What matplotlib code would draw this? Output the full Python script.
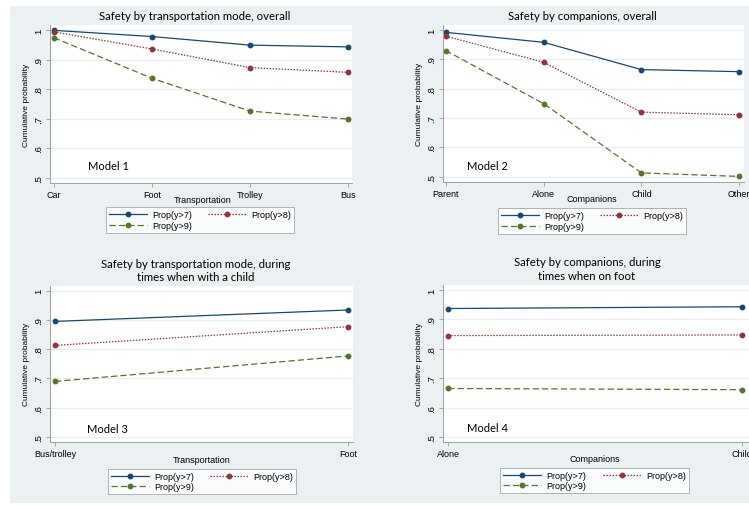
import matplotlib.pyplot as plt
from matplotlib.patches import Rectangle
from matplotlib.lines import Line2D

# data
transport = ['Car', 'Foot', 'Trolley', 'Bus']
p1_y7 = [0.999, 0.978, 0.949, 0.943]
p1_y8 = [0.994, 0.936, 0.873, 0.857]
p1_y9 = [0.974, 0.837, 0.726, 0.699]

companions = ['Parent', 'Alone', 'Child', 'Other']
p2_y7 = [0.992, 0.958, 0.865, 0.858]
p2_y8 = [0.979, 0.890, 0.720, 0.711]
p2_y9 = [0.930, 0.749, 0.513, 0.501]

transport_child = ['Bus/trolley', 'Foot']
p3_y7 = [0.895, 0.934]
p3_y8 = [0.813, 0.877]
p3_y9 = [0.690, 0.777]

companions_foot = ['Alone', 'Child']
p4_y7 = [0.937, 0.943]
p4_y8 = [0.845, 0.847]
p4_y9 = [0.665, 0.661]

yticks = [0.5, 0.6, 0.7, 0.8, 0.9, 1.0]
ytick_labels = ['.5', '.6', '.7', '.8', '.9', '1']
series_names = ['Prop(y>7)', 'Prop(y>8)', 'Prop(y>9)']

W, H = 749, 506
NAVY, MAROON, GREEN = '#1a476f', '#90353b', '#55752f'
BG = '#ebf0f3'
styles = [dict(color=NAVY, ls='-'),
          dict(color=MAROON, ls=(0, (1.2, 1.2))),
          dict(color=GREEN, ls=(0, (5, 2.5)))]


def px(x, y):
    return x / W, 1 - y / H


fig = plt.figure(figsize=(W / 100, H / 100), dpi=100, facecolor='white')
fig.patches.append(Rectangle(px(10, 504), (W - 10) / W, (504 - 7) / H,
                             transform=fig.transFigure, facecolor=BG,
                             edgecolor='none', zorder=-10))


def panel(box, labels, series, xlim, title, xlabel, model, title_xy, xlab_xy,
          model_xy, leg_xy):
    x0, y0, x1, y1 = box
    ax = fig.add_axes([x0 / W, 1 - y1 / H, (x1 - x0) / W, (y1 - y0) / H])
    ax.set_facecolor('white')
    xs = list(range(len(labels)))
    for vals, st in zip(series, styles):
        ax.plot(xs, vals, marker='o', markersize=3.2, lw=0.9, clip_on=False,
                **st)
    ax.set_xlim(*xlim)
    ax.set_ylim(0.483, 1.017)
    ax.set_yticks(yticks)
    ax.set_yticklabels(ytick_labels, rotation=90, va='center',
                       fontsize=6.8, family='Liberation Sans')
    ax.set_xticks(xs)
    ax.set_xticklabels(labels, fontsize=6.5, family='Liberation Sans')
    ax.tick_params(length=3, width=0.6, color='#999999', pad=2)
    ax.grid(axis='y', color='#e8eef1', lw=0.9)
    ax.set_axisbelow(True)
    for s in ['top', 'right']:
        ax.spines[s].set_visible(False)
    for s in ['left', 'bottom']:
        ax.spines[s].set_color('#a0a0a0')
        ax.spines[s].set_linewidth(0.7)
    ax.set_ylabel('Cumulative probability', fontsize=6,
                  family='Liberation Sans', labelpad=3)

    fig.text(*px(*title_xy), title, ha='center', va='center', fontsize=8.2,
             family='Lato', linespacing=1.25)
    fig.text(*px(*xlab_xy), xlabel, ha='center', va='center', fontsize=6.5,
             family='Liberation Sans')
    fig.text(*px(*model_xy), model, ha='left', va='center', fontsize=8,
             family='Lato')

    handles = [Line2D([], [], marker='o', markersize=3.2, lw=0.9, **st)
               for st in styles]
    order = [0, 2, 1]
    leg = fig.legend([handles[i] for i in order],
                     [series_names[i] for i in order],
                     ncol=2, loc='center', bbox_to_anchor=px(*leg_xy),
                     prop={'family': 'Liberation Sans', 'size': 6.5},
                     frameon=True, fancybox=False, handlelength=4.2,
                     columnspacing=1.8, labelspacing=0.15, borderpad=0.35,
                     handletextpad=0.6)
    leg.get_frame().set_edgecolor('#a0a0a0')
    leg.get_frame().set_linewidth(0.7)
    return ax


panel((50, 26, 352, 184), transport, [p1_y7, p1_y8, p1_y9], (-0.04, 3.04),
      'Safety by transportation mode, overall', 'Transportation', 'Model 1',
      (195, 17), (203, 201), (88, 166), (200, 221))

panel((443, 26, 744, 182.7), companions, [p2_y7, p2_y8, p2_y9],
      (-0.028, 3.048),
      'Safety by companions, overall', 'Companions', 'Model 2',
      (582, 17), (592, 200), (467, 167), (592, 222))

panel((50, 286.7, 353, 443), transport_child, [p3_y7, p3_y8, p3_y9],
      (-0.017, 1.017),
      'Safety by transportation mode, during\ntimes when with a child',
      'Transportation', 'Model 3',
      (196, 271), (202, 461), (87, 430), (202, 482.5))

panel((443, 286, 760, 443), companions_foot, [p4_y7, p4_y8, p4_y9],
      (-0.018, 1.062),
      'Safety by companions, during\ntimes when on foot',
      'Companions', 'Model 4',
      (587, 269.5), (595, 460), (467, 429), (594.5, 481.5))

fig.savefig('out.png', dpi=100, facecolor=fig.get_facecolor())
